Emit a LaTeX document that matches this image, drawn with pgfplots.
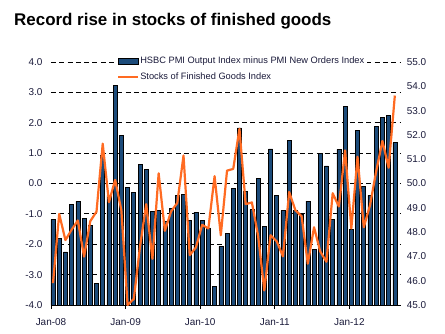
\documentclass[border=0pt]{standalone}
\usepackage{pgfplots}
\pgfplotsset{compat=1.18}
\usepackage{fontspec}
\setmainfont{Liberation Sans}
\definecolor{barblue}{HTML}{1C4B7A}
\definecolor{lineorange}{HTML}{FF6B22}
\definecolor{txt}{HTML}{1A1A3A}
\pgfplotsset{
  barlegend/.style={legend image code/.code={\draw[##1] (0bp,-3bp) rectangle (20bp,3bp);}},
  linelegend/.style={legend image code/.code={\draw[##1] (0bp,0bp) -- (20bp,0bp);}},
}
\begin{document}
\begin{tikzpicture}
\useasboundingbox (-51bp,-29bp) rectangle (394bp,305bp);
\node[anchor=base west, inner sep=0pt, font=\fontsize{17}{20}\selectfont\bfseries] at (-37bp,279bp) {Record rise in stocks of finished goods};
\begin{axis}[
  scale only axis, width=349bp, height=243bp,
  xmin=-0.32, xmax=55.83, ymin=0, ymax=8,
  axis x line*=bottom, axis y line*=left,
  y axis line style={draw=none},
  x axis line style={black, line width=0.8bp},
  xtick={-0.32,11.68,23.68,35.68,47.68},
  xticklabels={Jan-08,Jan-09,Jan-10,Jan-11,Jan-12},
  xtick align=outside,
  major tick length=4bp,
  xtick style={black, line width=0.8bp},
  ytick={0,1,2,3,4,5,6,7,8},
  yticklabels={-4.0,-3.0,-2.0,-1.0,0.0,1.0,2.0,3.0,4.0},
  ytick style={draw=none},
  ymajorgrids,
  grid style={black, line width=0.8bp, dash pattern=on 5bp off 3.3bp},
  ticklabel style={font=\fontsize{10}{12}\selectfont, text=txt},
  yticklabel style={anchor=east, inner sep=0pt, xshift=-8.3bp},
  xticklabel style={anchor=base, inner sep=0pt, yshift=-16.5bp},
]
\addplot[ybar, bar width=4bp, fill=barblue, draw=black, line width=0.6bp,
  y filter/.expression={y+4}] coordinates {
(0,-1.19) (1,-1.81) (2,-2.25) (3,-0.70) (4,-0.59) (5,-1.16) (6,-1.38) (7,-3.30)
(8,0.92) (9,-0.39) (10,3.22) (11,1.58) (12,-0.13) (13,-0.30) (14,0.63) (15,0.46)
(16,-0.91) (17,-0.89) (18,-1.24) (19,-0.82) (20,-0.38) (21,-0.35) (22,-1.21) (23,-0.94)
(24,-1.22) (25,-1.46) (26,-3.39) (27,-2.07) (28,-1.65) (29,-0.17) (30,1.83) (31,-0.25)
(32,-0.86) (33,0.16) (34,-1.40) (35,1.14) (36,-0.40) (37,-0.89) (38,1.41) (39,-0.88)
(40,-1.02) (41,-0.58) (42,-2.18) (43,0.98) (44,0.58) (45,-1.19) (46,1.12) (47,2.53)
(48,-1.52) (49,1.75) (50,-0.09) (51,-0.39) (52,1.88) (53,2.18) (54,2.23) (55,1.34)
};
\end{axis}
\begin{axis}[
  scale only axis, width=349bp, height=243bp,
  xmin=-0.32, xmax=55.83, ymin=45, ymax=55,
  hide x axis,
  axis y line*=right,
  y axis line style={draw=none},
  ytick={45,46,47,48,49,50,51,52,53,54,55},
  yticklabels={45.0,46.0,47.0,48.0,49.0,50.0,51.0,52.0,53.0,54.0,55.0},
  ytick style={draw=none},
  yticklabel style={font=\fontsize{10}{12}\selectfont, text=txt, anchor=west, inner sep=0pt, xshift=6.7bp},
  clip=false,
  legend style={at={(rel axis cs:0.183,1.031)}, anchor=north west, draw=none, fill=white,
    font=\fontsize{9.3}{11}\selectfont, text=txt, inner xsep=2bp, inner ysep=1bp, row sep=5bp,
    nodes={inner sep=1bp, text height=7bp, text depth=2bp}},
  legend cell align=left,
]
\addlegendimage{barlegend, fill=barblue, draw=black, line width=0.6bp}
\addlegendentry{HSBC PMI Output Index minus PMI New Orders Index}
\addplot[lineorange, line width=2.2bp, mark=none, line join=round, linelegend] coordinates {
(0,45.90) (1,48.75) (2,47.67) (3,48.10) (4,48.48) (5,46.99) (6,48.45) (7,48.84)
(8,51.64) (9,49.23) (10,50.15) (11,48.90) (12,45.00) (13,45.25) (14,47.40) (15,49.15)
(16,46.90) (17,50.42) (18,48.05) (19,48.85) (20,49.20) (21,51.15) (22,47.05) (23,47.37)
(24,48.30) (25,48.15) (26,50.30) (27,47.87) (28,50.53) (29,50.60) (30,52.25) (31,49.15)
(32,49.22) (33,47.85) (34,45.60) (35,47.87) (36,47.62) (37,47.00) (38,49.65) (39,48.90)
(40,48.65) (41,46.70) (42,48.20) (43,47.20) (44,46.78) (45,49.60) (46,49.05) (47,51.36)
(48,48.15) (49,51.10) (50,48.20) (51,49.10) (52,50.50) (53,51.75) (54,50.65) (55,53.62)
};
\addlegendentry{Stocks of Finished Goods Index}
\end{axis}
\end{tikzpicture}
\end{document}
